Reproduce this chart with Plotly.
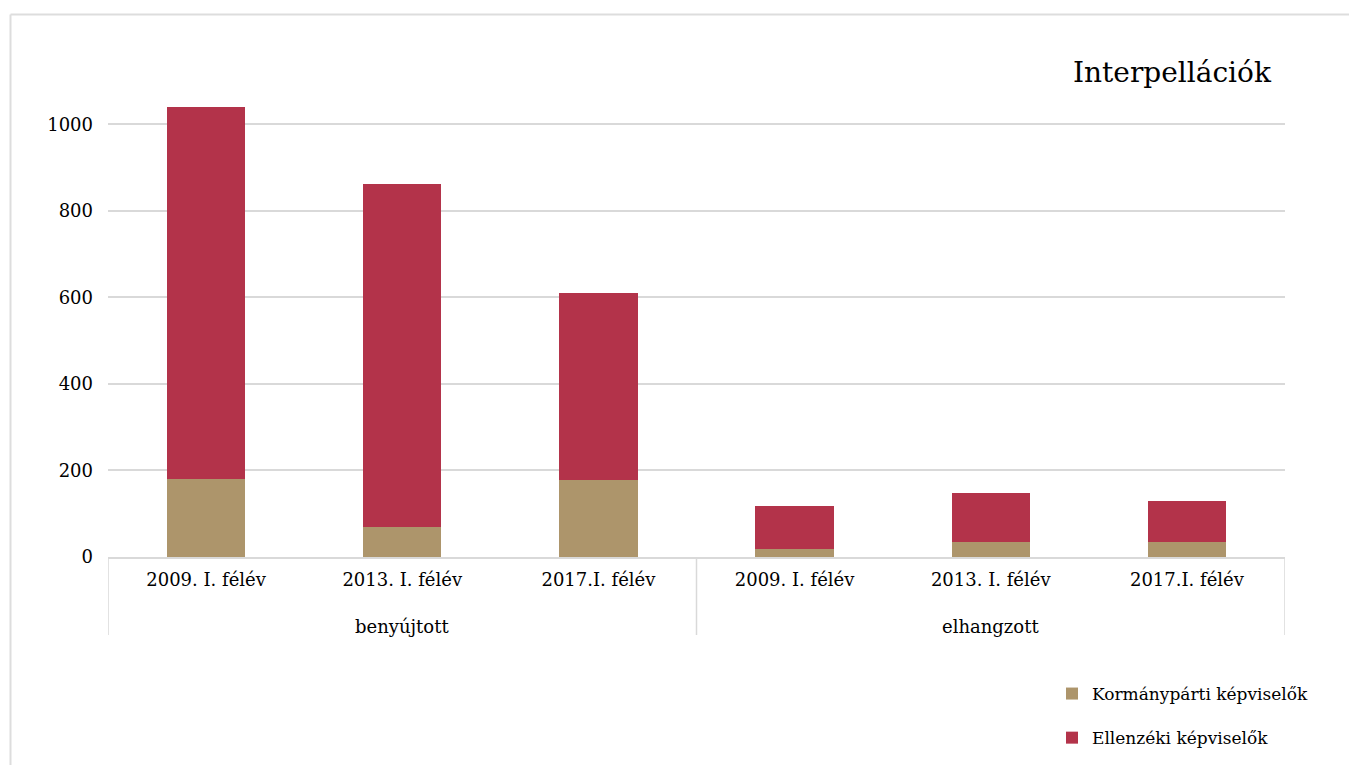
import plotly.graph_objects as go

groups = ["benyújtott", "elhangzott"]
periods = ["2009. I. félév", "2013. I. félév", "2017.I. félév"]
kormanyparti = [180, 69, 178, 18, 35, 35]
ellenzeki = [859, 792, 432, 100, 113, 94]
series_names = ["Kormánypárti képviselők", "Ellenzéki képviselők"]
colors = ["#AD956B", "#B3334A"]
title_text = "Interpellációk"

# category keys (group + period) with the period as visible tick text
keys = [f"{g}|{p}" for g in groups for p in periods]
tick_text = [p for g in groups for p in periods]

FONT = "DejaVu Serif"
W, H = 1357, 765
OFF = 8  # page body offset
L, T = 108 - OFF, 73
R = W - (1285 - OFF)
B = H - (557 - OFF)
PH = H - T - B
PW = W - L - R
GRID = "#D9D9D9"


def px_y(screen_y):
    """paper y for a screen pixel row"""
    return ((H - B) - (screen_y - OFF)) / PH


def px_x(screen_x):
    return ((screen_x - OFF) - L) / PW


fig = go.Figure()
for i, (name, vals, col) in enumerate(zip(series_names, [kormanyparti, ellenzeki], colors)):
    fig.add_trace(go.Bar(x=keys, y=vals, name=name, legendgroup=f"g{i}",
                         marker=dict(color=col, line=dict(width=0))))

annotations = [dict(text=title_text, xref="paper", yref="paper",
                    x=px_x(1274), y=px_y(72), xanchor="right", yanchor="middle",
                    showarrow=False, font=dict(size=28))]
n = len(periods)
for gi, g in enumerate(groups):
    annotations.append(dict(text=g, xref="x", yref="paper", x=gi * n + (n - 1) / 2,
                            y=px_y(626), xanchor="center", yanchor="middle",
                            showarrow=False, font=dict(size=18)))

shapes = []
for gi in range(len(groups) + 1):
    shapes.append(dict(type="line", xref="x", yref="paper", x0=gi * n - 0.5, x1=gi * n - 0.5,
                       y0=0, y1=px_y(635), line=dict(color=GRID, width=1.5)))
# outer chart frame
shapes.append(dict(type="line", xref="paper", yref="paper", x0=px_x(10.5), x1=px_x(10.5),
                   y0=px_y(800), y1=px_y(14.5), line=dict(color="#DDDDDD", width=2)))
shapes.append(dict(type="line", xref="paper", yref="paper", x0=px_x(10.5), x1=px_x(1400),
                   y0=px_y(14.5), y1=px_y(14.5), line=dict(color="#DDDDDD", width=2)))

fig.update_layout(
    width=W, height=H, barmode="stack", bargap=0.6,
    margin=dict(l=L, r=R, t=T, b=B),
    paper_bgcolor="white", plot_bgcolor="white",
    font=dict(family=FONT, size=18, color="#000000"),
    legend=dict(traceorder="grouped", orientation="v", x=px_x(1052), xanchor="left",
                y=px_y(676), yanchor="top", font=dict(size=17), tracegroupgap=19,
                itemwidth=30),
    xaxis=dict(type="category", tickvals=keys, ticktext=tick_text, showgrid=False,
               showline=True, linecolor=GRID, linewidth=1.5, ticks="",
               tickfont=dict(size=18), ticklabelstandoff=6, range=[-0.5, 5.5]),
    yaxis=dict(range=[0, 1100], dtick=200, showgrid=True, gridcolor=GRID,
               gridwidth=1.5, zeroline=False, showline=False, ticks="",
               tickfont=dict(size=18), ticklabelstandoff=14),
    annotations=annotations,
    shapes=shapes,
)

fig.write_html("out.html")
